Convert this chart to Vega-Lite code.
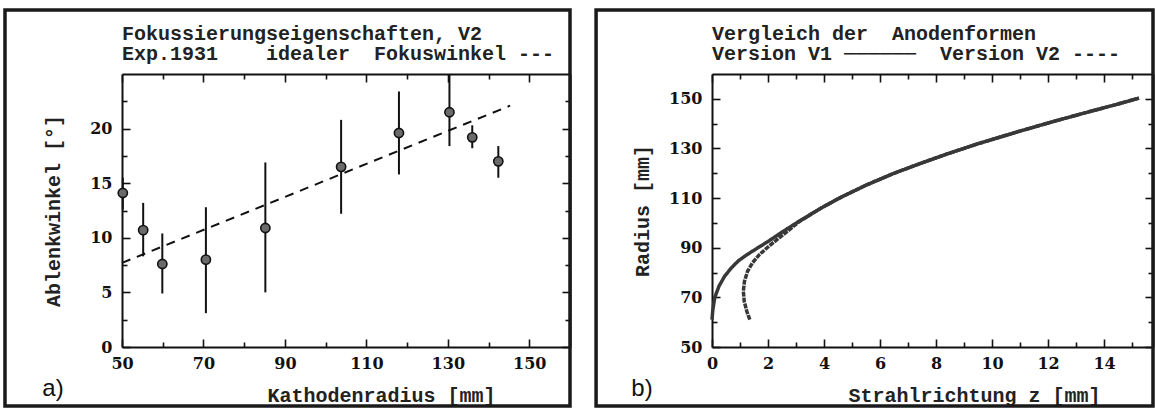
{
  "$schema": "https://vega.github.io/schema/vega-lite/v6.json",
  "background": "white",
  "autosize": "pad",
  "padding": {"left": 3, "top": 8, "right": 0, "bottom": 0},
  "spacing": 22,
  "config": {
    "view": {"stroke": null},
    "axis": {
      "grid": false,
      "domainColor": "#111",
      "domainWidth": 2,
      "tickColor": "#111",
      "tickWidth": 1.6,
      "tickSize": -6,
      "labelFont": "DejaVu Serif",
      "labelFontWeight": "bold",
      "labelFontSize": 16,
      "labelColor": "#111",
      "labelFlush": false,
      "labelOverlap": false,
      "titleFont": "Liberation Mono",
      "titleFontSize": 20,
      "titleFontWeight": "bold",
      "titleColor": "#222"
    },
    "title": {
      "anchor": "start",
      "frame": "group",
      "font": "Liberation Mono",
      "fontSize": 20,
      "fontWeight": "bold",
      "lineHeight": 20,
      "offset": -56,
      "color": "#222"
    }
  },
  "datasets": {
    "pts": [
      {"R": 50.2, "w": 14.1, "lo": 12.6, "hi": 15.5},
      {"R": 55.2, "w": 10.7, "lo": 8.3, "hi": 13.2},
      {"R": 59.9, "w": 7.6, "lo": 4.9, "hi": 10.4},
      {"R": 70.6, "w": 8.0, "lo": 3.1, "hi": 12.8},
      {"R": 85.2, "w": 10.9, "lo": 5.0, "hi": 16.9},
      {"R": 103.8, "w": 16.5, "lo": 12.2, "hi": 20.8},
      {"R": 118.0, "w": 19.6, "lo": 15.8, "hi": 23.4},
      {"R": 130.4, "w": 21.5, "lo": 18.4, "hi": 25.0},
      {"R": 136.0, "w": 19.2, "lo": 18.2, "hi": 20.3},
      {"R": 142.4, "w": 17.0, "lo": 15.5, "hi": 18.4}
    ],
    "ideal": [
      {"R": 50, "w": 7.7},
      {"R": 145.3, "w": 22.1}
    ],
    "curves": [
      {"version": "V1", "i": 0, "z": 0, "r": 61},
      {"version": "V1", "i": 1, "z": 0.03, "r": 65},
      {"version": "V1", "i": 2, "z": 0.1, "r": 70},
      {"version": "V1", "i": 3, "z": 0.25, "r": 74.5},
      {"version": "V1", "i": 4, "z": 0.45, "r": 78.5},
      {"version": "V1", "i": 5, "z": 0.7, "r": 82},
      {"version": "V1", "i": 6, "z": 0.95, "r": 84.8},
      {"version": "V1", "i": 7, "z": 1.25, "r": 87.2},
      {"version": "V1", "i": 8, "z": 1.6, "r": 89.7},
      {"version": "V1", "i": 9, "z": 2.0, "r": 92.5},
      {"version": "V1", "i": 10, "z": 2.5, "r": 96.3},
      {"version": "V1", "i": 11, "z": 3.1, "r": 100.6},
      {"version": "V1", "i": 12, "z": 3.9, "r": 106},
      {"version": "V1", "i": 13, "z": 4.6, "r": 110.3},
      {"version": "V1", "i": 14, "z": 5.5, "r": 115.2},
      {"version": "V1", "i": 15, "z": 6.5, "r": 120},
      {"version": "V1", "i": 16, "z": 7.5, "r": 124.2},
      {"version": "V1", "i": 17, "z": 8.4, "r": 127.8},
      {"version": "V1", "i": 18, "z": 9.5, "r": 131.9},
      {"version": "V1", "i": 19, "z": 11.0, "r": 137},
      {"version": "V1", "i": 20, "z": 12.3, "r": 141.2},
      {"version": "V1", "i": 21, "z": 13.6, "r": 145.2},
      {"version": "V1", "i": 22, "z": 14.5, "r": 147.9},
      {"version": "V1", "i": 23, "z": 15.25, "r": 150.3},
      {"version": "V2", "i": 0, "z": 1.35, "r": 61},
      {"version": "V2", "i": 1, "z": 1.24, "r": 64.5},
      {"version": "V2", "i": 2, "z": 1.15, "r": 68.5},
      {"version": "V2", "i": 3, "z": 1.12, "r": 72.5},
      {"version": "V2", "i": 4, "z": 1.16, "r": 76.5},
      {"version": "V2", "i": 5, "z": 1.27, "r": 80.5},
      {"version": "V2", "i": 6, "z": 1.45, "r": 84},
      {"version": "V2", "i": 7, "z": 1.7, "r": 87.3},
      {"version": "V2", "i": 8, "z": 2.0, "r": 90.3},
      {"version": "V2", "i": 9, "z": 2.4, "r": 94},
      {"version": "V2", "i": 10, "z": 2.8, "r": 97.6},
      {"version": "V2", "i": 11, "z": 3.1, "r": 100.4},
      {"version": "V2", "i": 12, "z": 3.9, "r": 106},
      {"version": "V2", "i": 13, "z": 4.6, "r": 110.3},
      {"version": "V2", "i": 14, "z": 5.5, "r": 115.2},
      {"version": "V2", "i": 15, "z": 6.5, "r": 120},
      {"version": "V2", "i": 16, "z": 7.5, "r": 124.2},
      {"version": "V2", "i": 17, "z": 8.4, "r": 127.8},
      {"version": "V2", "i": 18, "z": 9.5, "r": 131.9},
      {"version": "V2", "i": 19, "z": 11.0, "r": 137},
      {"version": "V2", "i": 20, "z": 12.3, "r": 141.2},
      {"version": "V2", "i": 21, "z": 13.6, "r": 145.2},
      {"version": "V2", "i": 22, "z": 14.5, "r": 147.9},
      {"version": "V2", "i": 23, "z": 15.25, "r": 150.3}
    ],
    "panelA": [{"panel": "a)"}],
    "panelB": [{"panel": "b)"}]
  },
  "hconcat": [
    {
      "width": 448,
      "height": 273,
      "title": {"text": ["Fokussierungseigenschaften, V2", "Exp.1931\u00a0\u00a0\u00a0\u00a0idealer\u00a0\u00a0Fokuswinkel ---"]},
      "resolve": {"axis": {"x": "independent", "y": "independent"}},
      "layer": [
        {
          "data": {"name": "panelA"},
          "mark": {"type": "rect", "fillOpacity": 0, "stroke": "#1a1a1a", "strokeWidth": 3.5, "clip": false},
          "encoding": {
            "x": {"datum": 21.27, "type": "quantitative", "scale": {"domain": [50, 160], "nice": false, "zero": false}, "axis": null},
            "x2": {"datum": 160},
            "y": {"datum": 30.86, "type": "quantitative", "scale": {"domain": [0, 25], "nice": false}, "axis": null},
            "y2": {"datum": -5.4}
          }
        },
        {
          "data": {"name": "pts"},
          "mark": {"type": "rule", "color": "#111", "strokeWidth": 2},
          "encoding": {
            "x": {"field": "R", "type": "quantitative", "scale": {"domain": [50, 160], "nice": false, "zero": false}, "axis": null},
            "y": {"field": "lo", "type": "quantitative", "scale": {"domain": [0, 25], "nice": false}, "axis": null},
            "y2": {"field": "hi"}
          }
        },
        {
          "data": {"name": "ideal"},
          "mark": {"type": "line", "color": "#111", "strokeWidth": 2, "strokeDash": [9, 7]},
          "encoding": {
            "x": {"field": "R", "type": "quantitative", "scale": {"domain": [50, 160], "nice": false, "zero": false},
                  "axis": {"orient": "top", "values": [50, 60, 70, 80, 90, 100, 110, 120, 130, 140, 150], "labels": false, "title": null,
                           "tickSize": {"condition": {"test": "datum.value % 20 == 10", "value": -8}, "value": -5}}},
            "y": {"field": "w", "type": "quantitative", "scale": {"domain": [0, 25], "nice": false},
                  "axis": {"orient": "right", "values": [0, 2.5, 5, 7.5, 10, 12.5, 15, 17.5, 20, 22.5], "labels": false, "title": null,
                           "tickSize": {"condition": {"test": "datum.value % 5 == 0", "value": -8}, "value": -5}}}
          }
        },
        {
          "data": {"name": "pts"},
          "mark": {"type": "circle", "size": 85, "fill": "#6a6a6a", "stroke": "#111", "strokeWidth": 1.6, "opacity": 1},
          "encoding": {
            "x": {"field": "R", "type": "quantitative", "scale": {"domain": [50, 160], "nice": false, "zero": false},
                  "axis": {"orient": "bottom", "values": [50, 60, 70, 80, 90, 100, 110, 120, 130, 140, 150],
                           "tickSize": {"condition": {"test": "datum.value % 20 == 10", "value": -8}, "value": -5},
                           "labelExpr": "datum.value % 20 == 10 ? datum.label : ''", "labelPadding": 16,
                           "title": "Kathodenradius [mm]", "titleX": 259, "titleAlign": "center", "titlePadding": 11}},
            "y": {"field": "w", "type": "quantitative", "scale": {"domain": [0, 25], "nice": false},
                  "axis": {"orient": "left", "values": [0, 2.5, 5, 7.5, 10, 12.5, 15, 17.5, 20, 22.5], "format": "d",
                           "tickSize": {"condition": {"test": "datum.value % 5 == 0", "value": -8}, "value": -5},
                           "labelExpr": "datum.value % 5 == 0 ? datum.label : ''", "labelPadding": 18,
                           "title": "Ablenkwinkel [°]", "titlePadding": 26}}
          }
        },
        {
          "data": {"name": "panelA"},
          "mark": {"type": "text", "font": "Liberation Sans", "fontSize": 24, "color": "#111", "align": "center", "baseline": "middle"},
          "encoding": {
            "x": {"datum": 33.06, "type": "quantitative", "scale": {"domain": [50, 160], "nice": false, "zero": false}, "axis": null},
            "y": {"datum": -3.85, "type": "quantitative", "scale": {"domain": [0, 25], "nice": false}, "axis": null},
            "text": {"field": "panel"}
          }
        }
      ]
    },
    {
      "width": 441,
      "height": 273,
      "title": {"text": ["Vergleich der\u00a0\u00a0Anodenformen", "Version V1 \u2500\u2500\u2500\u2500\u2500\u2500\u00a0\u00a0Version V2 ----"]},
      "resolve": {"axis": {"x": "independent", "y": "independent"}},
      "layer": [
        {
          "data": {"name": "panelB"},
          "mark": {"type": "rect", "fillOpacity": 0, "stroke": "#1a1a1a", "strokeWidth": 3.5, "clip": false},
          "encoding": {
            "x": {"datum": -4.14, "type": "quantitative", "scale": {"domain": [0, 15.75], "nice": false, "zero": false}, "axis": null},
            "x2": {"datum": 15.75},
            "y": {"datum": 185.8, "type": "quantitative", "scale": {"domain": [50, 160], "nice": false, "zero": false}, "axis": null},
            "y2": {"datum": 26.2}
          }
        },
        {
          "data": {"name": "curves"},
          "mark": {"type": "line", "color": "#383838", "strokeWidth": 3.5},
          "encoding": {
            "x": {"field": "z", "type": "quantitative", "scale": {"domain": [0, 15.75], "nice": false, "zero": false},
                  "axis": {"orient": "bottom", "values": [0, 1, 2, 3, 4, 5, 6, 7, 8, 9, 10, 11, 12, 13, 14, 15],
                           "tickSize": {"condition": {"test": "datum.value % 2 == 0", "value": -8}, "value": -5},
                           "labelExpr": "datum.value % 2 == 0 ? datum.label : ''", "labelPadding": 16,
                           "title": "Strahlrichtung z [mm]", "titleX": 262, "titleAlign": "center", "titlePadding": 11}},
            "y": {"field": "r", "type": "quantitative", "scale": {"domain": [50, 160], "nice": false, "zero": false},
                  "axis": {"orient": "left", "values": [50, 60, 70, 80, 90, 100, 110, 120, 130, 140, 150],
                           "tickSize": {"condition": {"test": "datum.value % 20 == 10", "value": -8}, "value": -5},
                           "labelExpr": "datum.value % 20 == 10 ? datum.label : ''", "labelPadding": 18,
                           "title": "Radius [mm]", "titlePadding": 16}},
            "order": {"field": "i", "type": "quantitative"},
            "detail": {"field": "version", "type": "nominal"},
            "strokeDash": {"field": "version", "type": "nominal", "scale": {"domain": ["V1", "V2"], "range": [[1, 0], [5, 1]]}, "legend": null}
          }
        },
        {
          "data": {"name": "curves"},
          "mark": {"type": "point", "opacity": 0},
          "encoding": {
            "x": {"field": "z", "type": "quantitative", "scale": {"domain": [0, 15.75], "nice": false, "zero": false},
                  "axis": {"orient": "top", "values": [0, 1, 2, 3, 4, 5, 6, 7, 8, 9, 10, 11, 12, 13, 14, 15], "labels": false, "title": null,
                           "tickSize": {"condition": {"test": "datum.value % 2 == 0", "value": -8}, "value": -5}}},
            "y": {"field": "r", "type": "quantitative", "scale": {"domain": [50, 160], "nice": false, "zero": false},
                  "axis": {"orient": "right", "values": [50, 60, 70, 80, 90, 100, 110, 120, 130, 140, 150], "labels": false, "title": null,
                           "tickSize": {"condition": {"test": "datum.value % 20 == 10", "value": -8}, "value": -5}}}
          }
        },
        {
          "data": {"name": "panelB"},
          "mark": {"type": "text", "font": "Liberation Sans", "fontSize": 24, "color": "#111", "align": "center", "baseline": "middle"},
          "encoding": {
            "x": {"datum": -2.5, "type": "quantitative", "scale": {"domain": [0, 15.75], "nice": false, "zero": false}, "axis": null},
            "y": {"datum": 33.1, "type": "quantitative", "scale": {"domain": [50, 160], "nice": false, "zero": false}, "axis": null},
            "text": {"field": "panel"}
          }
        }
      ]
    }
  ]
}
